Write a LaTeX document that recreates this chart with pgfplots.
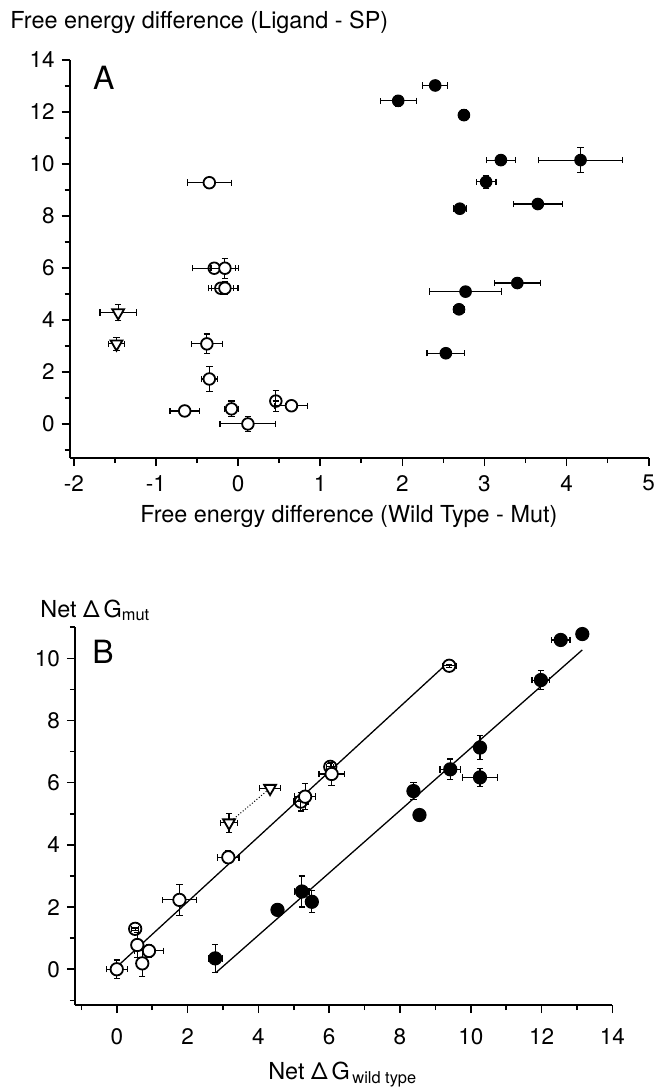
\documentclass[border=0pt]{standalone}
\usepackage{fontspec}
\setmainfont{TeX Gyre Heros}
\usepackage{pgfplots}
\pgfplotsset{compat=1.18}

\newcommand\lblfont{\fontsize{11.7}{13.5}\selectfont}
\pgfplotsset{
  panel/.style={
    scale only axis, clip=false,
    axis x line*=bottom, axis y line*=left,
    axis line style={line width=0.9pt,-},
    tick align=outside,
    major tick length=4pt, minor tick length=2.5pt,
    tick style={black, line width=0.8pt},
    tick label style={font=\fontsize{11.25}{13}\selectfont},
    /pgf/number format/assume math mode=true,
  },
  errs/.style={error bars/.cd, x dir=both, x explicit, y dir=both, y explicit,
    error bar style={line width=0.55pt, solid},
    error mark options={rotate=90, mark size=1.6pt, line width=0.6pt, solid}},
  filled/.style={only marks, mark=*, mark size=2.9pt, mark options={fill=black, draw=black, line width=0.5pt}},
  openw/.style={only marks, mark=*, mark size=2.9pt, mark options={fill=white, draw=black, line width=0.9pt}},
  hollow/.style={only marks, mark=o, mark size=2.9pt, mark options={draw=black, line width=0.9pt}},
  tri/.style={only marks, mark=triangle*, mark size=3.4pt, mark options={fill=white, draw=black, line width=0.9pt, rotate=180}},
}

\begin{document}
\begin{tikzpicture}
\useasboundingbox (0,0) rectangle (329pt,-545.5pt);

% panel A
\begin{axis}[panel, at={(34.85pt,-229pt)}, anchor=south west,
  width=289.5pt, height=199pt,
  xmin=-2.05, xmax=5, ymin=-1.31, ymax=14,
  xtick={-2,...,5}, minor xtick={-1.5,-0.5,...,4.5},
  ytick={0,2,...,14}, minor ytick={-1,1,...,13},
  xticklabel style={yshift=-1pt},
  xlabel={Free energy difference (Wild Type - Mut)},
  every axis x label/.style={at={(axis description cs:0.482,-0.146)}, anchor=center, inner sep=0pt, font=\lblfont},
  ylabel={Free energy difference (Ligand - SP)},
  every axis y label/.style={at={(axis description cs:-0.103,1.0955)}, anchor=west, inner sep=0pt, font=\lblfont},
]
\addplot[filled, errs] table[x=x, y=y, x error=ex, y error=ey, row sep=\\] {
x y ex ey \\
2.40 13.02 0.15 0.05 \\
1.95 12.43 0.22 0.20 \\
2.75 11.88 0.05 0.20 \\
3.20 10.15 0.18 0.10 \\
4.17 10.15 0.51 0.48 \\
3.02 9.31 0.12 0.25 \\
3.65 8.46 0.30 0.05 \\
2.70 8.28 0.08 0.05 \\
3.40 5.42 0.28 0.05 \\
2.77 5.09 0.44 0.05 \\
2.69 4.41 0.07 0.05 \\
2.53 2.72 0.23 0.05 \\
};
\addplot[hollow, errs] table[x=x, y=y, x error=ex, y error=ey, row sep=\\] {
x y ex ey \\
-0.29 5.99 0.26 0.00 \\
-0.21 5.22 0.15 0.00 \\
0.46 0.88 0.00 0.40 \\
};
\addplot[openw, errs] table[x=x, y=y, x error=ex, y error=ey, row sep=\\] {
x y ex ey \\
-0.35 9.28 0.27 0.10 \\
-0.16 5.99 0.17 0.38 \\
-0.16 5.22 0.16 0.25 \\
-0.38 3.08 0.19 0.38 \\
-0.35 1.73 0.10 0.48 \\
-0.65 0.50 0.18 0.10 \\
-0.08 0.58 0.09 0.30 \\
0.12 0.00 0.34 0.30 \\
0.65 0.70 0.20 0.10 \\
};
\addplot[tri, errs] table[x=x, y=y, x error=ex, y error=ey, row sep=\\] {
x y ex ey \\
-1.46 4.28 0.22 0.30 \\
-1.48 3.08 0.10 0.25 \\
};
\node[anchor=west, inner sep=0pt, font=\fontsize{16}{16}\selectfont] at (axis cs:-1.77,13.3) {A};
\end{axis}

% panel B
\begin{axis}[panel, at={(37.5pt,-502.5pt)}, anchor=south west,
  width=268.7pt, height=188.9pt,
  xmin=-1.18, xmax=14, ymin=-1.15, ymax=11,
  xtick={0,2,...,14}, minor xtick={-1,1,...,13},
  ytick={0,2,...,10}, minor ytick={-1,1,...,11},
  xticklabel style={yshift=-4pt},
  xlabel={Net Δ\,G\textsubscript{\,wild type}},
  every axis x label/.style={at={(axis description cs:0.359,-0.198)}, anchor=base west, inner sep=0pt, font=\lblfont},
  ylabel={Net Δ\,G\textsubscript{mut}},
  every axis y label/.style={at={(axis description cs:-0.065,1.027)}, anchor=base west, inner sep=0pt, font=\lblfont},
]
\addplot[black, line width=0.65pt] coordinates {(0.09,0.17) (9.23,9.73)};
\addplot[black, line width=0.65pt] coordinates {(2.80,-0.11) (13.15,10.27)};
\addplot[black, line width=0.5pt, densely dotted] coordinates {(3.17,4.71) (4.33,5.82)};
\addplot[filled, mark size=3.3pt, errs] table[x=x, y=y, x error=ex, y error=ey, row sep=\\] {
x y ex ey \\
2.78 0.35 0.20 0.45 \\
4.54 1.91 0.10 0.10 \\
5.23 2.50 0.20 0.50 \\
5.51 2.17 0.15 0.35 \\
8.38 5.73 0.10 0.27 \\
8.55 4.96 0.00 0.00 \\
9.42 6.43 0.29 0.33 \\
10.26 7.13 0.10 0.38 \\
10.26 6.17 0.49 0.28 \\
11.98 9.30 0.25 0.30 \\
12.54 10.59 0.26 0.05 \\
13.15 10.78 0.00 0.00 \\
};
\addplot[hollow, mark size=3.1pt, errs] table[x=x, y=y, x error=ex, y error=ey, row sep=\\] {
x y ex ey \\
0.52 1.30 0.10 0.05 \\
5.20 5.39 0.20 0.30 \\
6.03 6.51 0.10 0.10 \\
9.39 9.76 0.20 0.05 \\
};
\addplot[openw, mark size=3.1pt, errs] table[x=x, y=y, x error=ex, y error=ey, row sep=\\] {
x y ex ey \\
0.00 0.00 0.30 0.30 \\
0.58 0.78 0.15 0.40 \\
0.91 0.59 0.41 0.20 \\
0.72 0.19 0.10 0.43 \\
1.77 2.23 0.48 0.50 \\
3.15 3.60 0.30 0.20 \\
5.32 5.55 0.30 0.42 \\
6.07 6.28 0.36 0.37 \\
};
\addplot[tri, errs] table[x=x, y=y, x error=ex, y error=ey, row sep=\\] {
x y ex ey \\
3.17 4.71 0.25 0.30 \\
4.33 5.82 0.29 0.10 \\
};
\node[anchor=west, inner sep=0pt, font=\fontsize{16}{16}\selectfont] at (axis cs:-0.70,10.2) {B};
\end{axis}
\end{tikzpicture}
\end{document}
